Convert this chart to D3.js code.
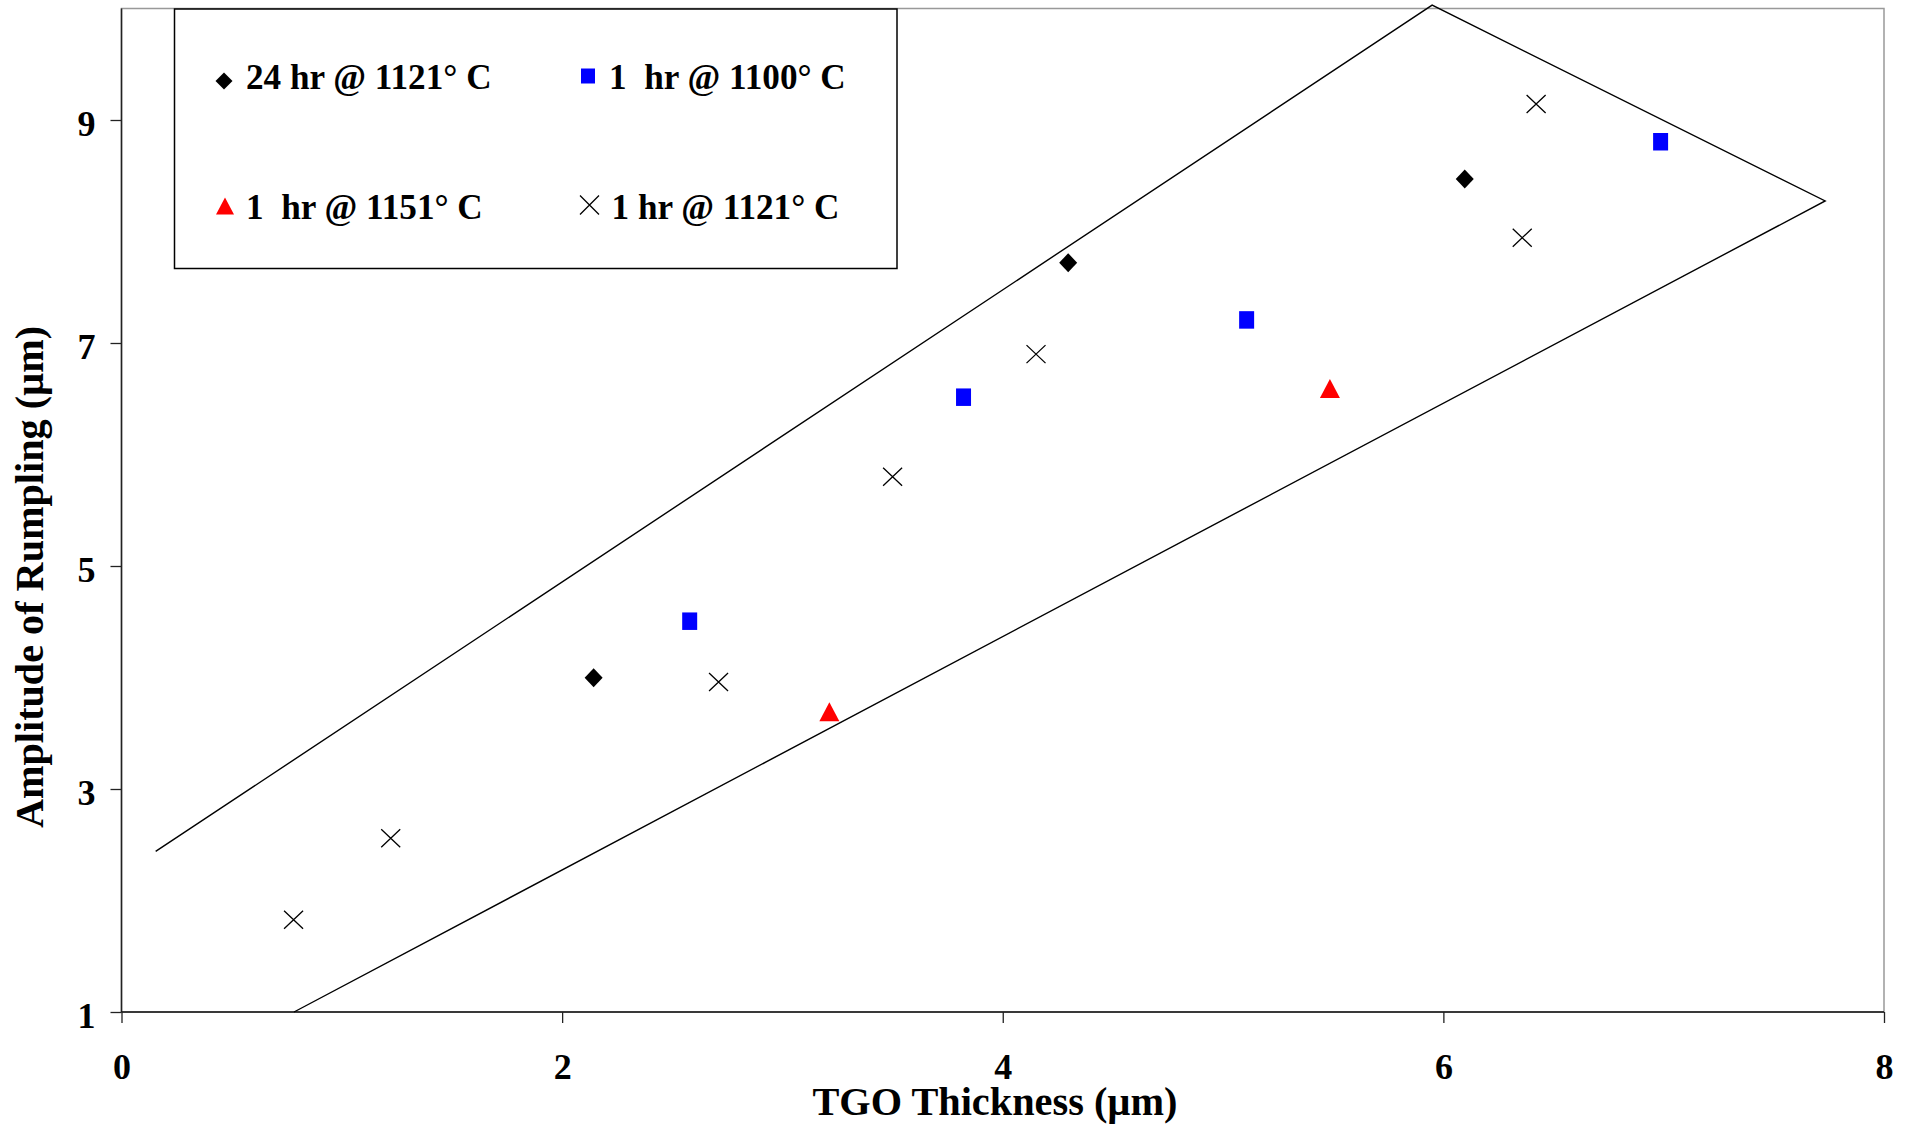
<!DOCTYPE html>
<html>
<head>
<meta charset="utf-8">
<script src="https://cdn.jsdelivr.net/npm/d3@7"></script>
<style>
  html, body { margin: 0; padding: 0; background: #fff; }
  svg { display: block; }
  text { font-family: "Liberation Serif", "Times New Roman", serif; font-weight: bold; fill: #000; }
</style>
</head>
<body>
<svg id="chart" width="1906" height="1124"></svg>
<script>
// Series: [TGO thickness (µm), amplitude of rumpling (µm)]
const series24h1121 = [[2.143, 3.998], [4.297, 7.72], [6.097, 8.47]];
const series1h1100 = [[2.579, 4.505], [3.822, 6.514], [5.107, 7.207], [6.986, 8.805]];
const series1h1151 = [[3.213, 3.692], [5.485, 6.591]];
const series1h1121 = [[0.781, 1.828], [1.222, 2.559], [2.71, 3.96], [3.50, 5.80], [4.151, 6.90], [6.358, 7.944], [6.421, 9.144]];

// Envelope drawn around the data (open polyline)
const envelope = [[0.155, 2.44], [5.949, 10.03], [7.733, 8.274], [0.783, 1.0]];

// Axis ticks
const xTicks = [0, 2, 4, 6, 8];
const yTicks = [1, 3, 5, 7, 9];

// Legend labels
const legendLabels = ["24 hr @ 1121° C", "1  hr @ 1100° C", "1  hr @ 1151° C", "1 hr @ 1121° C"];

const svg = d3.select("#chart");

const plot = { left: 121.5, right: 1884, top: 8.5, bottom: 1012 };

const x = d3.scaleLinear().domain([0, 8]).range([plot.left, plot.right]);
const y = d3.scaleLinear().domain([1, 10]).range([plot.bottom, plot.top]);

// Plot area frame (light grey)
svg.append("rect")
  .attr("x", plot.left).attr("y", plot.top)
  .attr("width", plot.right - plot.left).attr("height", plot.bottom - plot.top)
  .attr("fill", "none").attr("stroke", "#999").attr("stroke-width", 1.5);

// Y axis
const yAxis = svg.append("g")
  .attr("transform", `translate(${plot.left},0)`)
  .call(d3.axisLeft(y).tickValues(yTicks).tickSize(11).tickPadding(15).tickSizeOuter(0));
yAxis.select(".domain").attr("stroke", "#222").attr("stroke-width", 1.5)
  .attr("d", `M0,${plot.top}V${plot.bottom}`);
yAxis.selectAll(".tick line").attr("stroke", "#222").attr("stroke-width", 1.3);
yAxis.selectAll(".tick text")
  .attr("font-size", 36).attr("dy", "0.42em")
  .attr("font-family", null).attr("fill", "#000");

// X axis
const xAxis = svg.append("g")
  .attr("transform", `translate(0,${plot.bottom})`)
  .call(d3.axisBottom(x).tickValues(xTicks).tickSize(11).tickPadding(56).tickSizeOuter(0));
xAxis.select(".domain").attr("stroke", "#111").attr("stroke-width", 1.6)
  .attr("d", `M${plot.left},0H${plot.right}`);
xAxis.selectAll(".tick line").attr("stroke", "#222").attr("stroke-width", 1.3);
xAxis.selectAll(".tick text")
  .attr("font-size", 36).attr("dy", "0")
  .attr("font-family", null).attr("fill", "#000");

// Axis titles
svg.append("text")
  .attr("x", 995).attr("y", 1115)
  .attr("text-anchor", "middle")
  .attr("font-size", 40.3)
  .text("TGO Thickness (µm)");

svg.append("text")
  .attr("transform", "translate(43,577) rotate(-90)")
  .attr("text-anchor", "middle")
  .attr("font-size", 40.2)
  .text("Amplitude of Rumpling (µm)");

// Envelope polyline
svg.append("path")
  .datum(envelope)
  .attr("d", d3.line().x(d => x(d[0])).y(d => y(d[1])))
  .attr("fill", "none").attr("stroke", "#000").attr("stroke-width", 1.4);

// Marker shape builders (centered on 0,0)
const diamondPath = (w, h) => `M0,${-h / 2}L${w / 2},0L0,${h / 2}L${-w / 2},0Z`;
const squarePath = (w, h) => `M${-w / 2},${-h / 2}h${w}v${h}h${-w}Z`;
const trianglePath = (w, h) => `M0,${-h / 2}L${w / 2},${h / 2}L${-w / 2},${h / 2}Z`;
const crossPath = (w, h) => `M${-w / 2},${-h / 2}L${w / 2},${h / 2}M${w / 2},${-h / 2}L${-w / 2},${h / 2}`;

function drawMarkers(data, pathStr, fill, stroke) {
  svg.append("g").selectAll("path")
    .data(data)
    .join("path")
    .attr("transform", d => `translate(${x(d[0])},${y(d[1])})`)
    .attr("d", pathStr)
    .attr("fill", fill)
    .attr("stroke", stroke || "none")
    .attr("stroke-width", stroke ? 1.3 : 0);
}

drawMarkers(series24h1121, diamondPath(18, 19), "#000");
drawMarkers(series1h1100, squarePath(15, 17.5), "#0000ff");
drawMarkers(series1h1151, trianglePath(20, 19), "#ff0000");
drawMarkers(series1h1121, crossPath(19, 18), "none", "#000");

// Legend
const legend = svg.append("g");
legend.append("rect")
  .attr("x", 174.5).attr("y", 9).attr("width", 722.5).attr("height", 259.5)
  .attr("fill", "#fff").attr("stroke", "#000").attr("stroke-width", 1.5);

const legendItems = [
  { label: legendLabels[0], shape: diamondPath(17, 17), fill: "#000", stroke: null, mx: 224, my: 81, tx: 246, ty: 89 },
  { label: legendLabels[1], shape: squarePath(14, 15), fill: "#0000ff", stroke: null, mx: 588, my: 76, tx: 609, ty: 89 },
  { label: legendLabels[2], shape: trianglePath(18, 17), fill: "#ff0000", stroke: null, mx: 225, my: 206, tx: 246, ty: 219 },
  { label: legendLabels[3], shape: crossPath(19, 19), fill: "none", stroke: "#000", mx: 589.5, my: 205, tx: 611.5, ty: 219 }
];

legendItems.forEach(it => {
  legend.append("path")
    .attr("transform", `translate(${it.mx},${it.my})`)
    .attr("d", it.shape)
    .attr("fill", it.fill)
    .attr("stroke", it.stroke || "none")
    .attr("stroke-width", it.stroke ? 1.3 : 0);
  legend.append("text")
    .attr("x", it.tx).attr("y", it.ty)
    .attr("font-size", 35.2)
    .style("white-space", "pre")
    .text(it.label);
});
</script>
</body>
</html>
